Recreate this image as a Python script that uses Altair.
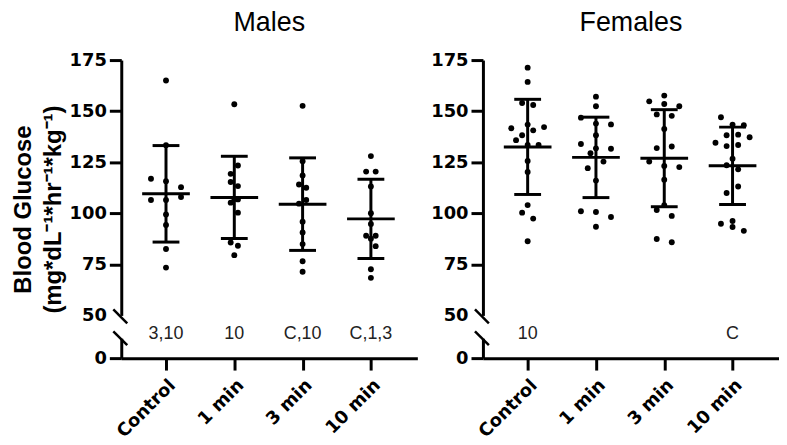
import json
import altair as alt
import pandas as pd

# ---------------- data ----------------
groups = ["Control", "1 min", "3 min", "10 min"]

male_control = [165.0, 133.3, 116.9, 115.7, 112.8, 108.0, 106.5, 106.5, 99.4, 94.3, 82.5, 73.4]
male_control_jit = [0, 0, -0.22, 0, 0.22, 0.22, -0.22, 0, 0, 0, 0, 0]
male_1min = [153.4, 123.4, 119.3, 115.3, 113.3, 107.0, 106.8, 105.2, 100.3, 85.7, 84.1, 79.5]
male_1min_jit = [0, 0.053, -0.053, -0.053, 0.053, 0, 0.053, -0.053, 0.053, -0.053, 0.053, 0]
male_3min = [152.6, 125.5, 118.5, 114.1, 112.5, 106.5, 104.7, 95.9, 90.6, 84.9, 76.5, 71.4]
male_3min_jit = [0, 0, 0, -0.053, 0.053, 0.053, -0.053, 0, 0, 0, 0, 0]
male_10min = [128.0, 120.4, 120.4, 113.1, 100.0, 94.8, 89.0, 89.0, 87.5, 83.9, 72.6, 68.4]
male_10min_jit = [0, -0.07, 0.07, 0, 0, 0, -0.07, 0.07, 0, 0.07, 0, 0]

female_control = [171.3, 164.3, 154.0, 153.0, 143.4, 141.6, 142.2, 140.6, 138.2, 135.8, 133.4,
                  133.4, 125.6, 120.2, 104.0, 100.3, 97.4, 86.3]
female_control_jit = [0, 0, -0.081, 0.081, 0, -0.24, 0.24, 0.081, -0.081, -0.17, 0.16,
                      0, 0, 0, 0, -0.081, 0.081, 0]
female_1min = [157.1, 152.4, 146.8, 143.9, 143.5, 138.2, 133.9, 131.8, 131.6, 129.4, 125.3,
               122.1, 116.0, 101.0, 100.6, 98.2, 93.4]
female_1min_jit = [0, 0, -0.22, 0, 0.22, 0, -0.22, 0, 0.22, -0.08, 0.11,
                   -0.12, 0, -0.22, 0, 0.22, 0]
female_3min = [157.6, 154.8, 153.5, 152.4, 148.4, 147.7, 141.3, 132.7, 131.9, 125.3, 123.2,
               122.6, 116.4, 104.0, 101.6, 98.7, 87.4, 85.8]
female_3min_jit = [0, -0.22, 0, 0.22, -0.11, 0.11, 0, 0.11, -0.11, -0.22, 0,
                   0.22, 0, 0, -0.11, 0.11, -0.11, 0.11]
female_10min = [147.0, 143.4, 143.1, 138.2, 138.5, 137.2, 134.5, 132.9, 133.4, 126.7, 123.5,
                121.5, 113.1, 109.9, 94.9, 96.2, 93.3, 91.4]
female_10min_jit = [-0.17, 0, 0.165, -0.087, 0.082, 0.25, -0.25, -0.087, 0.082, 0, -0.087,
                    0.082, 0.082, -0.087, -0.17, 0, 0, 0.165]

male_labels = ["3,10", "10", "C,10", "C,1,3"]
female_labels = ["10", "", "", "C"]

y_ticks_upper = [50, 75, 100, 125, 150, 175]
y_ticks_lower = [0]

# ---------------- tables ----------------
rows = []
series = {
    "Males": [(male_control, male_control_jit), (male_1min, male_1min_jit),
              (male_3min, male_3min_jit), (male_10min, male_10min_jit)],
    "Females": [(female_control, female_control_jit), (female_1min, female_1min_jit),
                (female_3min, female_3min_jit), (female_10min, female_10min_jit)],
}
for sex, lst in series.items():
    for i, (vals, jits) in enumerate(lst):
        for v, j in zip(vals, jits):
            rows.append({"sex": sex, "idx": i, "value": v, "jit": j})
df = pd.DataFrame(rows)

ann_rows = []
for sex, labs in (("Males", male_labels), ("Females", female_labels)):
    for i, t in enumerate(labs):
        if t:
            ann_rows.append({"sex": sex, "idx": i, "label": t})
ann = pd.DataFrame(ann_rows)

# ---------------- styling ----------------
BOLD = "DejaVu Sans"
PW, UH, LH = 298, 257, 20
xscale = alt.Scale(domain=[-0.655, 3.68], nice=False, zero=False)
yscale_up = alt.Scale(domain=[50, 175], nice=False, zero=False)
yscale_lo = alt.Scale(domain=[0, 10], nice=False, zero=False)
label_expr = json.dumps(groups) + "[datum.value]"

axis_common = dict(domainColor="black", domainWidth=3, tickColor="black", tickWidth=3,
                   tickSize=12, labelFont=BOLD, labelFontWeight="bold", labelFontSize=18,
                   labelColor="black", grid=False, labelPadding=3)


def upper_panel(sex, with_title):
    base = alt.Chart(df).transform_filter(alt.datum.sex == sex)
    yaxis_kw = dict(axis_common)
    yaxis_kw.update(values=y_ticks_upper,
                    tickOpacity={"condition": {"test": "datum.value === 50", "value": 0}, "value": 1})
    if with_title:
        yaxis_kw.update(title=["Blood Glucose", "(mg*dL\u207b\u00b9*hr\u207b\u00b9*kg\u207b\u00b9)"],
                        titleFont="Liberation Sans", titleFontSize=24, titleFontWeight="bold",
                        titleColor="black", titleLineHeight=30, titlePadding=4, titleY=150)
    else:
        yaxis_kw.update(title=None)
    yaxis = alt.Axis(**yaxis_kw)

    pts = base.transform_calculate(xpos="datum.idx + datum.jit").mark_circle(
        size=35, color="black", opacity=1).encode(
        x=alt.X("xpos:Q", scale=xscale, axis=None),
        y=alt.Y("value:Q", scale=yscale_up, axis=yaxis))

    stats = base.transform_aggregate(
        mean="mean(value)", sd="stdev(value)", groupby=["idx"]).transform_calculate(
        lo="datum.mean - datum.sd", hi="datum.mean + datum.sd")

    xs = alt.X("idx:Q", scale=xscale, axis=None)
    vbar = stats.mark_rule(strokeWidth=3, color="black").encode(
        x=xs, y=alt.Y("lo:Q", scale=yscale_up), y2="hi:Q")
    cap_hi = stats.mark_tick(orient="horizontal", size=27, thickness=3, color="black", opacity=1).encode(
        x=xs, y=alt.Y("hi:Q", scale=yscale_up))
    cap_lo = stats.mark_tick(orient="horizontal", size=27, thickness=3, color="black", opacity=1).encode(
        x=xs, y=alt.Y("lo:Q", scale=yscale_up))
    mean_t = stats.mark_tick(orient="horizontal", size=48, thickness=3, color="black", opacity=1).encode(
        x=xs, y=alt.Y("mean:Q", scale=yscale_up))

    slash_up = alt.Chart(alt.Data(values=[{}])).mark_rule(strokeWidth=2.5, color="black").encode(
        x=alt.value(-8), x2=alt.value(6), y=alt.value(UH - 6), y2=alt.value(UH + 8))

    return alt.layer(pts, vbar, cap_hi, cap_lo, mean_t, slash_up).properties(
        width=PW, height=UH,
        title=alt.TitleParams(sex, font="Liberation Sans", fontSize=27, fontWeight="normal",
                              color="black", anchor="middle", offset=14))


def lower_panel(sex, labels_df):
    xaxis = alt.Axis(values=[0, 1, 2, 3], labelExpr=label_expr, labelAngle=-45,
                     labelAlign="right", labelBaseline="top", title=None,
                     **{k: v for k, v in axis_common.items() if k != "labelPadding"},
                     labelPadding=6)
    ylo_axis = alt.Axis(values=y_ticks_lower, title=None, **axis_common)

    txt = alt.Chart(labels_df).transform_filter(alt.datum.sex == sex).mark_text(
        font="Liberation Sans", fontSize=18, color="#222222", baseline="middle", dy=-4).encode(
        x=alt.X("idx:Q", scale=xscale, axis=xaxis),
        y=alt.Y(datum=10, type="quantitative", scale=yscale_lo, axis=ylo_axis),
        text="label:N")
    slash_lo = alt.Chart(alt.Data(values=[{}])).mark_rule(strokeWidth=2.5, color="black").encode(
        x=alt.value(-8), x2=alt.value(6), y=alt.value(-7), y2=alt.value(7))
    return alt.layer(txt, slash_lo).properties(width=PW, height=LH)


chart = alt.concat(
    upper_panel("Males", True), upper_panel("Females", False),
    lower_panel("Males", ann), lower_panel("Females", ann),
    columns=2, spacing={"row": 23, "column": 66}, bounds="flush",
).properties(
    padding={"left": 3, "top": 0, "right": 0, "bottom": 0},
    background="white",
).configure_view(stroke="transparent", strokeWidth=0)

chart.save("out.html", embed_options={"renderer": "svg", "actions": False})
